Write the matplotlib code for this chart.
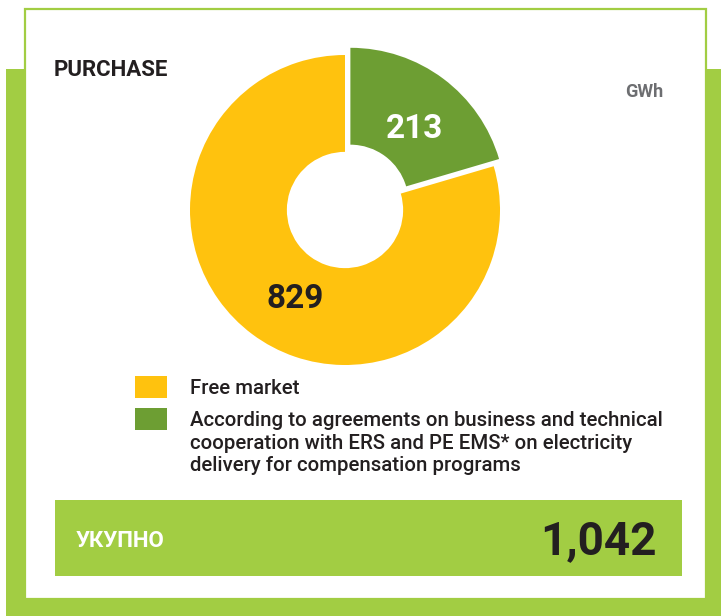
import numpy as np
import matplotlib
matplotlib.use("Agg")
import matplotlib.pyplot as plt
from matplotlib.patches import Rectangle

# data
categories = ["According to agreements on business and technical\n"
              "cooperation with ERS and PE EMS* on electricity\n"
              "delivery for compensation programs",
              "Free market"]
values = [213, 829]
colors = ["#6d9e33", "#ffc20e"]
title = "PURCHASE"
unit = "GWh"
total_label = "УКУПНО"

LIME = "#a2cd43"
DARK = "#231f20"
FONT = ["Roboto", "DejaVu Sans"]
plt.rcParams["font.family"] = FONT

W, H = 721, 616
fig = plt.figure(figsize=(W / 100, H / 100), dpi=100)

# background frame, pixel coords
bg = fig.add_axes([0, 0, 1, 1])
bg.set_xlim(0, W)
bg.set_ylim(H, 0)
bg.axis("off")
bg.add_patch(Rectangle((6, 69), W - 6, H - 69, color=LIME, lw=0))
bg.add_patch(Rectangle((25, 9), 681, 590, facecolor="white", edgecolor=LIME, lw=1.6))

bg.text(54, 76, title, fontsize=16, fontweight="bold", color=DARK, va="baseline")
bg.text(663, 97, unit, fontsize=13, fontweight="bold", color="#6d6e71",
        ha="right", va="baseline")

# donut
cx, cy, R, pad = 345, 210, 155, 1.25
side = 2 * pad * R
ax = fig.add_axes([(cx - side / 2) / W, (H - cy - side / 2) / H, side / W, side / H])
explode = [0.058, 0]
wedges, _ = ax.pie(values, colors=colors, startangle=90, counterclock=False,
                   explode=explode, radius=1,
                   wedgeprops=dict(width=0.625, edgecolor="none"))
ax.set_xlim(-pad, pad)
ax.set_ylim(-pad, pad)
ax.set_aspect("equal")
ax.axis("off")

# label radius and angle shift from wedge middle
label_r = [0.63, 0.66]
label_dt = [-4.4, 7.5]
label_c = ["white", DARK]
for w, v, r, dt, c, e in zip(wedges, values, label_r, label_dt, label_c, explode):
    mid = (w.theta1 + w.theta2) / 2
    ex, ey = e * np.cos(np.deg2rad(mid)), e * np.sin(np.deg2rad(mid))
    a = np.deg2rad(mid + dt)
    ax.text(ex + r * np.cos(a), ey + r * np.sin(a), str(v), fontsize=24,
            fontweight="bold", color=c, ha="center", va="center")

# legend
leg = [(colors[1], categories[1], 376), (colors[0], categories[0], 408)]
for col, txt, y in leg:
    bg.add_patch(Rectangle((135, y), 32, 22, color=col, lw=0))
    bg.text(190, y + 3, txt, fontsize=14.7, fontweight="medium", color=DARK,
            va="top", linespacing=1.24)

# total box
bg.add_patch(Rectangle((55, 500), 627, 76, color=LIME, lw=0))
bg.text(76, 547, total_label, fontsize=16, fontweight="bold", color="white", va="baseline")
bg.text(657, 554, f"{sum(values):,}", fontsize=33, fontweight="bold", color=DARK,
        ha="right", va="baseline")

fig.savefig("out.png", dpi=100)
